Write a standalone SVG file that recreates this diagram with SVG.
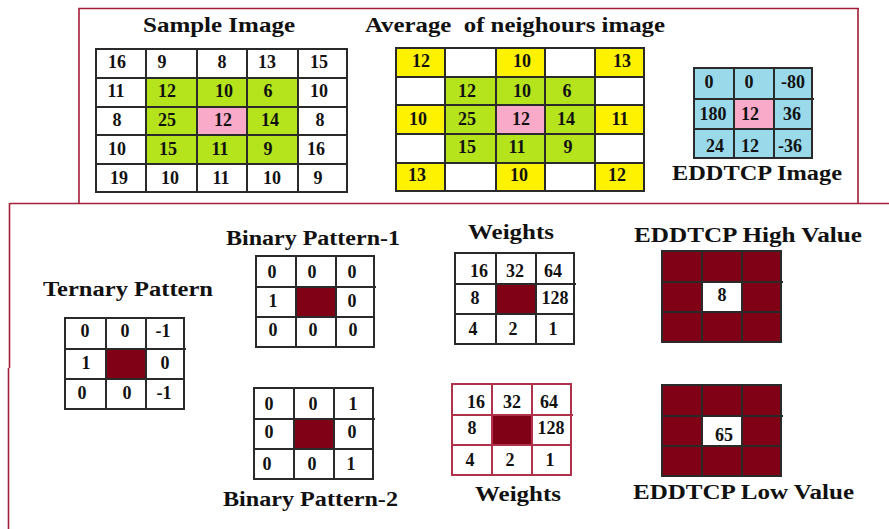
<svg xmlns="http://www.w3.org/2000/svg" width="889" height="529" viewBox="0 0 889 529">
<style>
text{font-family:"Liberation Serif","Times New Roman",serif;font-weight:bold;fill:#111;}
.t{font-size:20px;}
.n{font-size:18px;text-anchor:middle;}
.g{fill:none;stroke:#2a2a2a;stroke-width:2;}
.gr{fill:none;stroke:#b0324a;stroke-width:2;}
.b{fill:none;stroke:#a31f38;stroke-width:1.6;}
.W{fill:#fff;}.Y{fill:#fff200;}.G{fill:#b5e31c;}.P{fill:#f8aac8;}.B{fill:#99d9ea;}.M{fill:#800016;}
</style>
<rect width="889" height="529" fill="#fff"/>
<g id="borders">
<path class="b" d="M79,203 V8.5 H859 M858,8 V203 M10,203.5 H889 M9.5,203 V368 M8.5,368 V529"/>
</g>

<g id="sample-image">
<text class="t" x="143" y="32" textLength="152" lengthAdjust="spacingAndGlyphs">Sample Image</text>
<rect class="W" x="96" y="49" width="251" height="143"/>
<rect class="G" x="146" y="78" width="152" height="86"/>
<rect class="P" x="197" y="107" width="50" height="28"/>
<path class="g" d="M96,49 H347 V192 H96 Z M146,49 V192 M197,49 V192 M247,49 V192 M298,49 V192 M96,78 H347 M96,107 H347 M96,135 H347 M96,164 H347"/>
<text class="n" x="117" y="68">16</text><text class="n" x="162" y="68">9</text><text class="n" x="222" y="68">8</text><text class="n" x="267" y="68">13</text><text class="n" x="319" y="68">15</text>
<text class="n" x="116" y="97">11</text><text class="n" x="167" y="97">12</text><text class="n" x="224" y="97">10</text><text class="n" x="268" y="97">6</text><text class="n" x="319" y="97">10</text>
<text class="n" x="117" y="126">8</text><text class="n" x="167" y="126">25</text><text class="n" x="223" y="126">12</text><text class="n" x="270" y="126">14</text><text class="n" x="320" y="126">8</text>
<text class="n" x="117" y="155">10</text><text class="n" x="168" y="155">15</text><text class="n" x="220" y="155">11</text><text class="n" x="268" y="155">9</text><text class="n" x="316" y="155">16</text>
<text class="n" x="119" y="184">19</text><text class="n" x="170" y="184">10</text><text class="n" x="221" y="184">11</text><text class="n" x="272" y="184">10</text><text class="n" x="318" y="184">9</text>
</g>

<g id="average-image">
<text class="t" x="365" y="32" textLength="300" lengthAdjust="spacingAndGlyphs" xml:space="preserve">Average  of neighours image</text>
<rect class="W" x="396" y="48" width="248" height="143"/>
<rect class="Y" x="396" y="48" width="49" height="29"/><rect class="Y" x="496" y="48" width="49" height="29"/><rect class="Y" x="595" y="48" width="49" height="29"/>
<rect class="Y" x="396" y="105" width="49" height="29"/><rect class="Y" x="595" y="105" width="49" height="29"/>
<rect class="Y" x="396" y="163" width="49" height="28"/><rect class="Y" x="496" y="163" width="49" height="28"/><rect class="Y" x="595" y="163" width="49" height="28"/>
<rect class="G" x="445" y="77" width="150" height="86"/>
<rect class="P" x="496" y="105" width="49" height="29"/>
<path class="g" d="M396,48 H644 V191 H396 Z M445,48 V191 M496,48 V191 M545,48 V191 M595,48 V191 M396,77 H644 M396,105 H644 M396,134 H644 M396,163 H644"/>
<text class="n" x="421" y="67">12</text><text class="n" x="522" y="67">10</text><text class="n" x="622" y="67">13</text>
<text class="n" x="467" y="97">12</text><text class="n" x="522" y="97">10</text><text class="n" x="567" y="97">6</text>
<text class="n" x="418" y="125">10</text><text class="n" x="467" y="125">25</text><text class="n" x="521" y="125">12</text><text class="n" x="566" y="125">14</text><text class="n" x="620" y="125">11</text>
<text class="n" x="467" y="153">15</text><text class="n" x="517" y="153">11</text><text class="n" x="568" y="153">9</text>
<text class="n" x="417" y="181">13</text><text class="n" x="519" y="181">10</text><text class="n" x="617" y="181">12</text>
</g>

<g id="eddtcp-image">
<rect class="B" x="694" y="68" width="118" height="90"/>
<rect class="P" x="734" y="99" width="40" height="30"/>
<path class="g" d="M694,68 H812 V158 H694 Z M734,68 V158 M774,68 V158 M694,99 H814 M694,129 H812"/>
<text class="n" x="709" y="88">0</text><text class="n" x="749" y="88">0</text><text class="n" x="793" y="88">-80</text>
<text class="n" x="713" y="120">180</text><text class="n" x="750" y="120">12</text><text class="n" x="792" y="120">36</text>
<text class="n" x="715" y="152">24</text><text class="n" x="750" y="152">12</text><text class="n" x="790" y="152">-36</text>
<text class="t" x="672" y="180" textLength="170" lengthAdjust="spacingAndGlyphs">EDDTCP Image</text>
</g>

<g id="ternary-pattern">
<text class="t" x="43" y="296" textLength="170" lengthAdjust="spacingAndGlyphs">Ternary Pattern</text>
<rect class="W" x="65" y="318" width="119" height="91"/>
<rect class="M" x="106" y="349" width="40" height="30"/>
<path class="g" d="M65,318 H184 V409 H65 Z M106,318 V409 M146,318 V409 M65,349 H186 M65,379 H184"/>
<text class="n" x="85" y="337">0</text><text class="n" x="125" y="337">0</text><text class="n" x="163" y="337">-1</text>
<text class="n" x="86" y="369">1</text><text class="n" x="165" y="369">0</text>
<text class="n" x="82" y="399">0</text><text class="n" x="127" y="399">0</text><text class="n" x="164" y="399">-1</text>
</g>

<g id="binary-pattern-1">
<text class="t" x="226" y="245" textLength="174" lengthAdjust="spacingAndGlyphs">Binary Pattern-1</text>
<rect class="W" x="256" y="256" width="118" height="91"/>
<rect class="M" x="296" y="287" width="40" height="30"/>
<path class="g" d="M256,256 H374 V347 H256 Z M296,256 V347 M336,256 V347 M256,287 H376 M256,317 H374"/>
<text class="n" x="272" y="278">0</text><text class="n" x="312" y="278">0</text><text class="n" x="352" y="278">0</text>
<text class="n" x="273" y="307">1</text><text class="n" x="352" y="307">0</text>
<text class="n" x="273" y="336">0</text><text class="n" x="313" y="336">0</text><text class="n" x="353" y="336">0</text>
</g>

<g id="binary-pattern-2">
<rect class="W" x="254" y="388" width="119" height="91"/>
<rect class="M" x="294" y="419" width="40" height="30"/>
<path class="g" d="M254,388 H373 V479 H254 Z M294,388 V479 M334,388 V479 M254,419 H375 M254,449 H373"/>
<text class="n" x="269" y="410">0</text><text class="n" x="313" y="410">0</text><text class="n" x="353" y="410">1</text>
<text class="n" x="269" y="438">0</text><text class="n" x="352" y="438">0</text>
<text class="n" x="267" y="470">0</text><text class="n" x="312" y="470">0</text><text class="n" x="351" y="470">1</text>
<text class="t" x="223" y="506" textLength="175" lengthAdjust="spacingAndGlyphs">Binary Pattern-2</text>
</g>

<g id="weights-1">
<text class="t" x="468" y="239" textLength="86" lengthAdjust="spacingAndGlyphs">Weights</text>
<rect class="W" x="455" y="253" width="119" height="91"/>
<rect class="M" x="496" y="284" width="40" height="30"/>
<path class="g" d="M455,253 H574 V344 H455 Z M496,253 V344 M536,253 V344 M455,284 H576 M455,314 H574"/>
<text class="n" x="479" y="277">16</text><text class="n" x="515" y="277">32</text><text class="n" x="553" y="277">64</text>
<text class="n" x="475" y="304">8</text><text class="n" x="555" y="304">128</text>
<text class="n" x="473" y="335">4</text><text class="n" x="513" y="335">2</text><text class="n" x="553" y="335">1</text>
</g>

<g id="weights-2">
<rect class="W" x="452" y="384" width="119" height="91"/>
<rect class="M" x="492" y="415" width="40" height="30"/>
<path class="gr" d="M452,384 H571 V475 H452 Z M492,384 V475 M532,384 V475 M452,415 H573 M452,445 H571"/>
<text class="n" x="476" y="408">16</text><text class="n" x="512" y="408">32</text><text class="n" x="549" y="408">64</text>
<text class="n" x="472" y="434">8</text><text class="n" x="551" y="434">128</text>
<text class="n" x="470" y="466">4</text><text class="n" x="510" y="466">2</text><text class="n" x="550" y="466">1</text>
<text class="t" x="475" y="501" textLength="86" lengthAdjust="spacingAndGlyphs">Weights</text>
</g>

<g id="eddtcp-high">
<text class="t" x="634" y="242" textLength="228" lengthAdjust="spacingAndGlyphs">EDDTCP High Value</text>
<rect class="M" x="662" y="251" width="119" height="91"/>
<rect class="W" x="702" y="282" width="40" height="30"/>
<path class="g" d="M662,251 H781 V342 H662 Z M702,251 V342 M742,251 V342 M662,282 H783 M662,312 H781"/>
<text class="n" x="722" y="301">8</text>
</g>

<g id="eddtcp-low">
<rect class="M" x="662" y="385" width="119" height="91"/>
<rect class="W" x="702" y="416" width="40" height="30"/>
<path class="g" d="M662,385 H781 V476 H662 Z M702,385 V476 M742,385 V476 M662,416 H783 M662,446 H781"/>
<text class="n" x="724" y="441">65</text>
<text class="t" x="633" y="499" textLength="221" lengthAdjust="spacingAndGlyphs">EDDTCP Low Value</text>
</g>
</svg>
